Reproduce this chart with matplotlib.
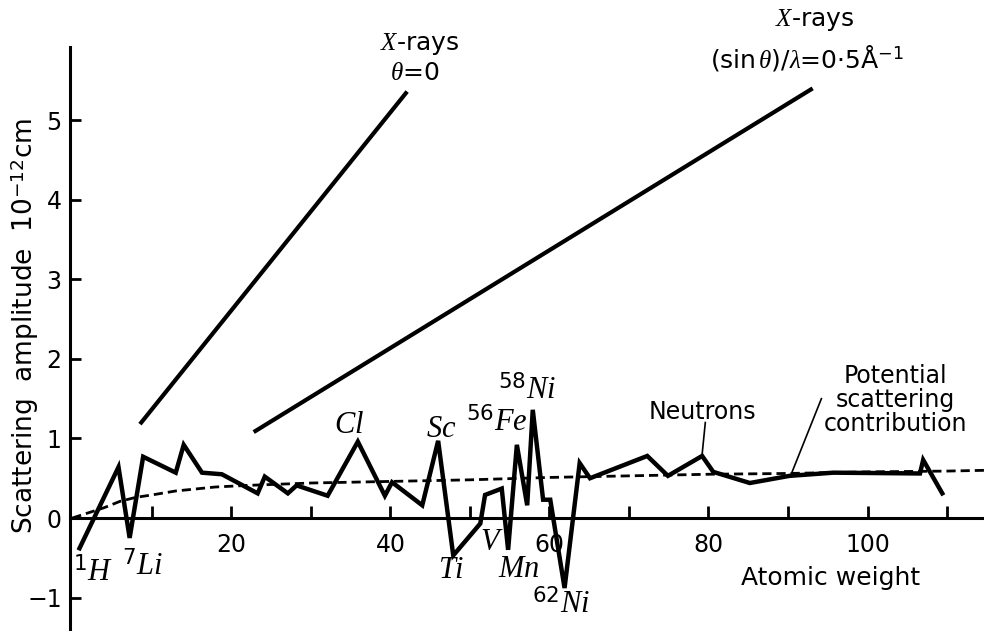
import matplotlib.pyplot as plt

plt.rcParams['font.family'] = 'DejaVu Sans'
plt.rcParams['mathtext.fontset'] = 'custom'
plt.rcParams['mathtext.rm'] = 'DejaVu Sans'
plt.rcParams['mathtext.it'] = 'Liberation Serif:italic'
plt.rcParams['mathtext.bf'] = 'DejaVu Sans:bold'
plt.rcParams['xtick.direction'] = 'in'
plt.rcParams['ytick.direction'] = 'in'
plt.rcParams['axes.linewidth'] = 2.2
plt.rcParams['xtick.major.width'] = 2
plt.rcParams['ytick.major.width'] = 2

# neutron scattering amplitude (10^-12 cm) vs atomic weight
neutron_A = [0.9, 5.8, 7.2, 8.9, 13.0, 14.0, 16.3, 18.8, 23.3, 24.2, 27.1, 28.2,
             32.1, 35.9, 39.3, 40.2, 44.0, 46.0, 47.9, 51.3, 51.9, 54.0, 54.8,
             55.9, 57.2, 57.9, 59.2, 60.1, 61.9, 63.8, 65.1, 72.3, 74.9, 79.2,
             80.6, 85.2, 90.2, 95.7, 106.6, 107.0, 109.4]
neutron_b = [-0.38, 0.64, -0.25, 0.77, 0.57, 0.92, 0.57, 0.55, 0.31, 0.52, 0.31, 0.41,
             0.28, 0.96, 0.28, 0.45, 0.16, 0.97, -0.47, -0.07, 0.29, 0.37, -0.40,
             0.92, 0.16, 1.36, 0.23, 0.23, -0.88, 0.69, 0.50, 0.78, 0.53, 0.78,
             0.58, 0.44, 0.53, 0.57, 0.56, 0.73, 0.31]

# potential scattering contribution
potential_A = [0, 4, 6, 8, 10, 13, 15, 18, 20, 22, 30, 40, 50, 60, 70, 80, 90,
               100, 110, 115]
potential_b = [0, 0.13, 0.21, 0.26, 0.29, 0.34, 0.36, 0.39, 0.40, 0.41, 0.44,
               0.46, 0.48, 0.51, 0.53, 0.55, 0.56, 0.58, 0.59, 0.60]

# X-ray amplitudes
xray_0_A = [8.5, 42.1]
xray_0_f = [1.18, 5.36]
xray_05_A = [22.8, 93.1]
xray_05_f = [1.08, 5.40]

element_names = [r'$^{1}H$', r'$^{7}Li$', r'$Cl$', r'$Sc$', r'$^{56}Fe$',
                 r'$^{58}Ni$', r'$Ti$', r'$V$', r'$Mn$', r'$^{62}Ni$']
element_xy = [(2.6, -0.68), (8.8, -0.60), (34.8, 1.18), (46.4, 1.13),
              (53.4, 1.21), (57.2, 1.61), (47.6, -0.65), (52.8, -0.30),
              (56.1, -0.63), (61.5, -1.08)]

xticks = list(range(10, 111, 10))
xticklabels = ['', '20', '', '40', '', '60', '', '80', '', '100', '']
yticks = [-1, 0, 1, 2, 3, 4, 5]

fig = plt.figure(figsize=(9.84, 6.31), dpi=100)
ax = fig.add_axes([70 / 984, 0, 914 / 984, 584 / 631])
ax.set_xlim(-0.3, 114.65)
ax.set_ylim(-1.42, 5.92)

ax.plot(neutron_A, neutron_b, color='k', lw=3.2, solid_joinstyle='miter')
ax.plot(potential_A, potential_b, color='k', lw=2.0, dashes=(3.3, 1.8))
ax.plot(xray_0_A, xray_0_f, color='k', lw=3.0, solid_capstyle='butt')
ax.plot(xray_05_A, xray_05_f, color='k', lw=3.0, solid_capstyle='butt')

# leader lines
ax.plot([79.6, 79.2], [1.20, 0.80], color='k', lw=1.2)
ax.plot([94.2, 90.4], [1.50, 0.55], color='k', lw=1.2)

for name, (x, y) in zip(element_names, element_xy):
    ax.text(x, y, name, fontsize=22, ha='center', va='center')

ax.text(79.3, 1.33, 'Neutrons', fontsize=17, ha='center', va='center')
ax.text(103.5, 1.48, 'Potential\nscattering\ncontribution', fontsize=17,
        ha='center', va='center', linespacing=1.0)
ax.text(95.3, -0.75, 'Atomic weight', fontsize=18, ha='center', va='center')

ax.text(43.7, 5.96, r'$X$-rays', fontsize=18, ha='center', va='center')
ax.text(43.1, 5.59, r'$\theta$=0', fontsize=18, ha='center', va='center')
ax.text(93.3, 6.26, r'$X$-rays', fontsize=18, ha='center', va='center')
ax.text(92.4, 5.78, r'(sin$\,\theta$)/$\lambda$=0·5Å$^{-1}$', fontsize=18,
        ha='center', va='center')

# Styling
ax.spines['top'].set_visible(False)
ax.spines['right'].set_visible(False)
ax.spines['bottom'].set_position(('data', 0))
ax.set_xticks(xticks)
ax.set_xticklabels(xticklabels)
ax.set_yticks(yticks)
ax.tick_params(axis='x', length=9, pad=11, labelsize=17)
ax.tick_params(axis='y', length=8, pad=6, labelsize=17)

fig.text(25 / 984, 1 - 326 / 631, r'Scattering  amplitude  10$^{-12}$cm',
         rotation=90, fontsize=19, ha='center', va='center')

fig.savefig('out.png', dpi=100)
